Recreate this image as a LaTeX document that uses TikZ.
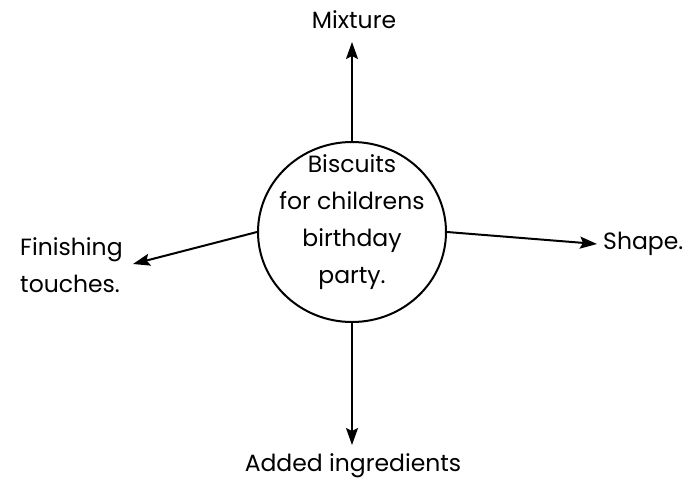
\documentclass[tikz,border=0pt]{standalone}
\usepackage{fontspec}
\setmainfont{Poppins}
\usetikzlibrary{shapes.geometric,arrows.meta}
\begin{document}
\begin{tikzpicture}[x=1pt,y=-1pt,
  lbl/.style={font=\fontsize{23.5}{37}\selectfont, inner sep=0pt},
  arr/.style={line width=2pt, -{Stealth[length=17pt,width=12pt,inset=3pt]}}]
\useasboundingbox (0,0) rectangle (699,483);
\node[draw, ellipse, line width=2pt, minimum width=188pt, minimum height=180pt, inner sep=0pt] (c) at (352,232) {};
\node[lbl, align=center] (ct) at (352,222) {Biscuits\\for childrens\\birthday\\party.};
\node[lbl] (mix) at (354,20) {Mixture};
\node[lbl] (add) at (353,466) {Added ingredients};
\node[lbl, anchor=west, align=left] (fin) at (20,265) {Finishing\\touches.};
\node[lbl, anchor=west] (shp) at (603,244) {Shape.};
\coordinate (tu) at (352,42);
\coordinate (td) at (352,445);
\coordinate (tl) at (133,264);
\coordinate (tr) at (597,244);
\draw[arr] (c.north) -- (tu);
\draw[arr] (c.south) -- (td);
\draw[arr] (c.west) -- (tl);
\draw[arr] (c.east) -- (tr);
\end{tikzpicture}
\end{document}
